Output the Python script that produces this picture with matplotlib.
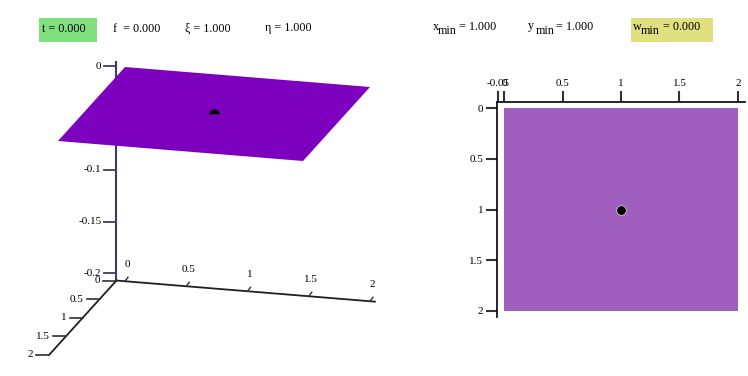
import numpy as np
import matplotlib
matplotlib.use('Agg')
import matplotlib.pyplot as plt
from matplotlib.colors import ListedColormap
from matplotlib.patches import Rectangle, Polygon

plt.rcParams['font.family'] = ['Liberation Serif', 'DejaVu Serif']

# surface w(x, y) at t = 0
x_grid = [0.0, 0.5, 1.0, 1.5, 2.0]
y_grid = [0.0, 0.5, 1.0, 1.5, 2.0]
w_grid = [[0.0, 0.0, 0.0, 0.0, 0.0],
          [0.0, 0.0, 0.0, 0.0, 0.0],
          [0.0, 0.0, 0.0, 0.0, 0.0],
          [0.0, 0.0, 0.0, 0.0, 0.0],
          [0.0, 0.0, 0.0, 0.0, 0.0]]

# minimum point and header values
x_min, y_min, w_min = 1.0, 1.0, 0.0
t_val, f_val, xi_val, eta_val = 0.0, 0.0, 1.0, 1.0

x_ticks = [0, 0.5, 1, 1.5, 2]
y_ticks = [0, 0.5, 1, 1.5, 2]
z_ticks = [0, -0.05, -0.1, -0.15, -0.2]
x2_ticks = [-0.05, 0, 0.5, 1, 1.5, 2]

SURF_3D = '#7d00bf'
SURF_2D = '#a05fbf'
AXIS_Z = '#3c3c5c'

# oblique projection of the 3d box onto the figure (pixels)
ORIGIN = (125.0, 67.0)
EX = (122.5, 10.0)
EY = (-33.5, 37.0)
EZ = -1035.0
X_LO, X_HI = -0.07, 2.04
Z_LO, Z_HI = -0.207, 0.004


def proj(x, y, z):
    return (ORIGIN[0] + x * EX[0] + y * EY[0],
            ORIGIN[1] + x * EX[1] + y * EY[1] + z * EZ)


def fmt(v):
    return '%g' % v


fig = plt.figure(figsize=(7.48, 3.76), dpi=100)
ax = fig.add_axes([0, 0, 1, 1])
ax.set_xlim(0, 748)
ax.set_ylim(376, 0)
ax.axis('off')

# header
ax.add_patch(Rectangle((39, 18), 58, 24, color='#80e080', lw=0))
ax.add_patch(Rectangle((631, 18), 82, 24, color='#e0e080', lw=0))
header = [(42, 't = %.3f' % t_val),
          (113, 'f  = %.3f' % f_val),
          (185, '\u03be = %.3f' % xi_val),
          (265, '\u03b7 = %.3f' % eta_val)]
for xp, s in header:
    ax.text(xp, 31.5, s, fontsize=8.7, ha='left', va='baseline')

# subscripted labels: (name x, sub x, rest x, name, value)
sub_labels = [(433, 438, 459, 'x', x_min),
              (528, 535.5, 556, 'y', y_min),
              (633, 641, 663, 'w', w_min)]
for xn, xs, xr, name, val in sub_labels:
    ax.text(xn, 29.5, name, fontsize=8.7, ha='left', va='baseline')
    ax.text(xs, 34.5, 'min', fontsize=8.7, ha='left', va='baseline')
    ax.text(xr, 30.5, '= %.3f' % val, fontsize=8.7, ha='left', va='baseline')

# 3d axes
p0 = proj(X_LO, 0, Z_LO)
pz = proj(X_LO, 0, Z_HI)
px = proj(X_HI, 0, Z_LO)
py = proj(X_LO, y_grid[-1], Z_LO)
ax.plot([p0[0], pz[0]], [p0[1], pz[1]], color=AXIS_Z, lw=1.5, zorder=1)
ax.plot([p0[0], px[0]], [p0[1], px[1]], color='#202020', lw=1.3, zorder=1)
ax.plot([p0[0], py[0]], [p0[1], py[1]], color='#202020', lw=1.3, zorder=1)

for z in z_ticks:
    p = proj(X_LO, 0, z)
    ax.plot([p[0] - 12, p[0]], [p[1], p[1]], color=AXIS_Z, lw=1.3, zorder=1)
    ax.text(p[0] - 15, p[1], fmt(z), fontsize=8, ha='right', va='center', zorder=1)

for y in y_ticks:
    p = proj(X_LO, y, Z_LO)
    ax.plot([p[0] - 13, p[0]], [p[1], p[1]], color='#303030', lw=1.2, zorder=1)
    ax.text(p[0] - 16, p[1], fmt(y), fontsize=8, ha='right', va='center', zorder=1)

for x in x_ticks:
    p = proj(x, 0, Z_LO)
    ax.plot([p[0], p[0] + 3], [p[1], p[1] - 4], color='#303030', lw=1.0, zorder=1)
    ax.text(p[0] + 2, p[1] - 17, fmt(x), fontsize=8, ha='center', va='center', zorder=1)

# surface outline from the grid boundary
n = len(x_grid)
edge = ([(i, 0) for i in range(n)] + [(n - 1, j) for j in range(1, n)] +
        [(i, n - 1) for i in range(n - 2, -1, -1)] + [(0, j) for j in range(n - 2, 0, -1)])
pts = [proj(x_grid[i], y_grid[j], w_grid[j][i]) for i, j in edge]
ax.add_patch(Polygon(pts, closed=True, color=SURF_3D, lw=0, zorder=2))

pm = proj(x_min, y_min, w_min)
ax.plot([pm[0]], [pm[1]], 'o', ms=7.5, color='black', fillstyle='top',
        markerfacecoloralt=SURF_3D, mew=0, zorder=3)

# 2d map of the surface
ax2 = fig.add_axes([497 / 748, 1 - 317 / 376, 248 / 748, 215 / 376])
ax2.imshow(np.array(w_grid), extent=(x_grid[0], x_grid[-1], y_grid[-1], y_grid[0]),
           cmap=ListedColormap([SURF_2D]), vmin=-1, vmax=1, aspect='auto',
           interpolation='nearest')
ax2.plot([x_min], [y_min], 'o', ms=7, color='black', mec='#d0d0d0', mew=0.6)
ax2.set_xlim(-0.06, 2.06)
ax2.set_ylim(2.06, -0.06)
ax2.xaxis.tick_top()
ax2.set_xticks(x2_ticks)
ax2.set_xticklabels([fmt(v) for v in x2_ticks])
ax2.set_yticks(y_ticks)
ax2.set_yticklabels([fmt(v) for v in y_ticks])
ax2.tick_params(direction='out', length=8, width=1.5, color='#333333',
                labelsize=8, pad=2)
for side in ['bottom', 'right']:
    ax2.spines[side].set_visible(False)
for side in ['top', 'left']:
    ax2.spines[side].set_linewidth(1.2)

fig.savefig('out.png', dpi=100)
